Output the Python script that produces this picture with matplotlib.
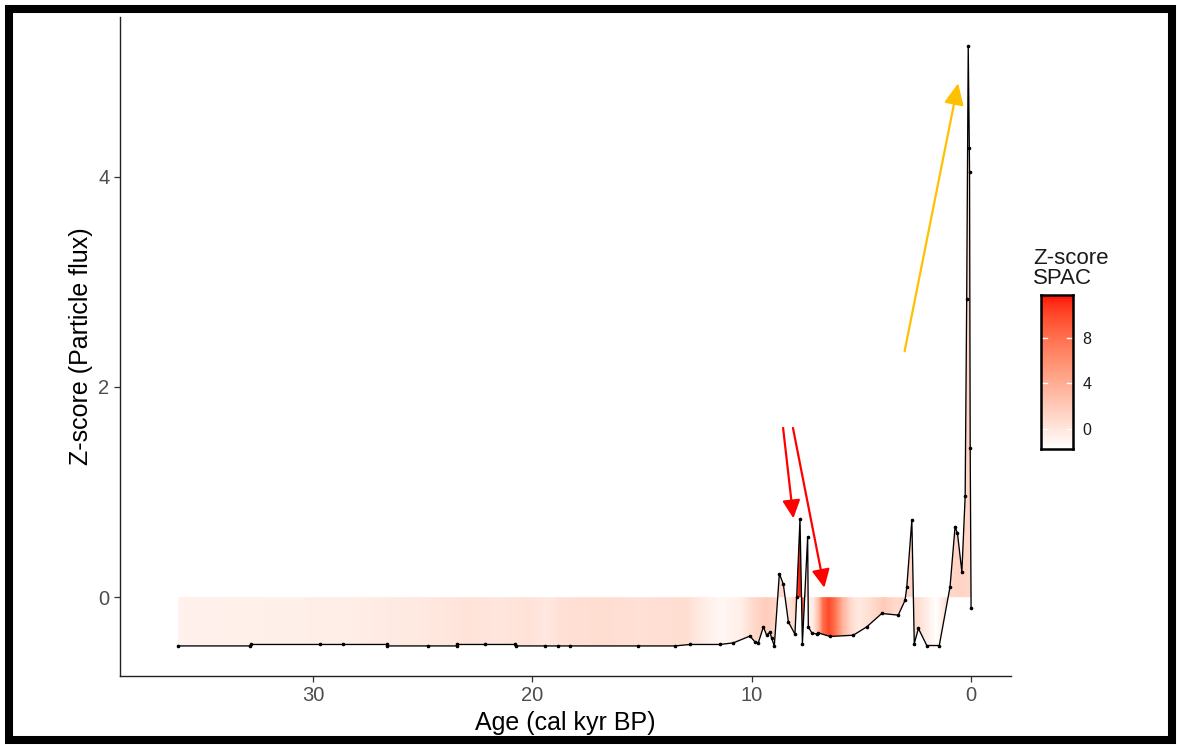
import numpy as np
import matplotlib
matplotlib.use("Agg")
import matplotlib.pyplot as plt
from matplotlib.colors import ListedColormap, Normalize
from matplotlib.patches import Rectangle, PathPatch

# ---------------- data ----------------
age_kyr = [36.17, 32.88, 32.85, 29.69, 28.62, 26.64, 26.62, 24.75, 23.45, 23.42,
           22.16, 20.79, 20.76, 19.43, 18.82, 18.29, 15.17, 13.50, 12.81, 11.45,
           10.84, 10.08, 9.85, 9.70, 9.47, 9.32, 9.17, 9.09, 8.97, 8.74,
           8.56, 8.33, 8.03, 7.95, 7.80, 7.69, 7.45, 7.42, 7.26, 7.04,
           6.96, 6.43, 5.37, 4.76, 4.07, 3.32, 3.01, 2.93, 2.70, 2.59,
           2.40, 2.02, 1.45, 0.96, 0.73, 0.62, 0.42, 0.27, 0.20, 0.13,
           0.08, 0.07, 0.04, 0.00]
zscore_flux = [-0.464, -0.464, -0.45, -0.45, -0.45, -0.45, -0.464, -0.464, -0.464, -0.45,
               -0.45, -0.45, -0.464, -0.464, -0.464, -0.464, -0.464, -0.464, -0.45, -0.45,
               -0.435, -0.37, -0.426, -0.435, -0.283, -0.362, -0.333, -0.393, -0.464, 0.224,
               0.124, -0.235, -0.352, 0.003, 0.74, -0.441, 0.574, -0.283, -0.34, -0.352,
               -0.34, -0.374, -0.362, -0.283, -0.155, -0.171, -0.03, 0.098, 0.736, -0.441,
               -0.298, -0.46, -0.46, 0.098, 0.67, 0.607, 0.241, 0.96, 2.84, 5.24,
               4.27, 4.05, 1.42, -0.1]

spac_age = [36.2, 32.9, 29.2, 26.0, 24.2, 23.1, 21.5, 20.2, 19.4, 18.7,
            16.9, 15.1, 13.0, 12.4, 11.45, 10.5, 10.0, 9.4, 8.8, 8.35,
            8.07, 7.89, 7.71, 7.52, 7.25, 6.98, 6.8, 6.52, 6.25, 5.88,
            5.52, 5.15, 4.6, 4.0, 3.47, 2.78, 2.33, 1.64, 1.05, 0.5, 0.0]
spac_zscore = [-0.8, -0.7, -0.6, -0.3, -0.1, 0.2, 0.0, 0.3, -0.2, 0.4,
               0.6, 0.4, 0.6, -0.3, -1.2, -0.6, 0.8, 1.8, 1.0, 0.0,
               1.0, 11.8, 9.5, -0.5, -0.6, 3.0, 8.0, 10.0, 8.0, 3.5,
               0.8, -0.3, 0.6, 2.0, 0.8, 1.2, 0.3, -1.8, 1.0, 1.3, 1.0]

x_ticks = [0, 10, 20, 30]
y_ticks = [0, 2, 4]
cbar_ticks = [0, 4, 8]

# ---------------- colormap (white -> red, Lab interpolation like ggplot) ----------------
def lab_to_srgb(L, a, b):
    fy = (L + 16) / 116.0
    fx = fy + a / 500.0
    fz = fy - b / 200.0
    d = 6 / 29

    def finv(t):
        return np.where(t > d, t ** 3, 3 * d * d * (t - 4 / 29))
    X = 0.95047 * finv(fx)
    Y = 1.0 * finv(fy)
    Z = 1.08883 * finv(fz)
    r = 3.2406 * X - 1.5372 * Y - 0.4986 * Z
    g = -0.9689 * X + 1.8758 * Y + 0.0415 * Z
    bb = 0.0557 * X - 0.2040 * Y + 1.0570 * Z
    rgb = np.stack([r, g, bb], axis=-1)
    rgb = np.where(rgb <= 0.0031308, 12.92 * rgb, 1.055 * np.clip(rgb, 0, None) ** (1 / 2.4) - 0.055)
    return np.clip(rgb, 0, 1)

t = np.linspace(0, 1, 256)
L = 100 + (53.2408 - 100) * t
A = 0 + 80.0925 * t
B = 0 + 67.2032 * t
cmap = ListedColormap(lab_to_srgb(L, A, B))
norm = Normalize(vmin=min(spac_zscore), vmax=max(spac_zscore))

# ---------------- figure ----------------
plt.rcParams["font.family"] = ["Liberation Sans", "DejaVu Sans"]
W, H = 1177, 745
fig = plt.figure(figsize=(W / 100, H / 100), dpi=100)
fig.patch.set_facecolor("white")

ax = fig.add_axes([120 / W, 1 - 676 / H, (1011 - 120) / W, (676 - 17) / H])

# gradient fill between 0 and the curve
fb = ax.fill_between(age_kyr, zscore_flux, 0, facecolor="none", edgecolor="none")
path = fb.get_paths()[0]
clip = PathPatch(path, transform=ax.transData, facecolor="none", edgecolor="none")
ax.add_patch(clip)
gx = np.linspace(0, max(age_kyr), 4000)
gv = np.interp(gx, spac_age[::-1], spac_zscore[::-1])
img = cmap(norm(gv))[None, :, :]
im = ax.imshow(img, extent=(gx[0], gx[-1], min(zscore_flux), max(zscore_flux)),
               aspect="auto", interpolation="nearest", zorder=1)
im.set_clip_path(clip)

ax.plot(age_kyr, zscore_flux, color="black", lw=0.95, zorder=3)
ax.plot(age_kyr, zscore_flux, "o", color="black", ms=1.6, zorder=4)

ax.set_xlim(38.8, -1.82)
ax.set_ylim(-0.75, 5.52)

# arrows (annotations)
red_head = "-|>,head_length=0.55,head_width=0.27"
ax.annotate("", xy=(8.10, 0.75), xytext=(8.57, 1.61),
            arrowprops=dict(arrowstyle=red_head, color="#FF0000", lw=1.6,
                            mutation_scale=20, shrinkA=0, shrinkB=0), zorder=5)
ax.annotate("", xy=(6.69, 0.09), xytext=(8.12, 1.61),
            arrowprops=dict(arrowstyle=red_head, color="#FF0000", lw=1.6,
                            mutation_scale=20, shrinkA=0, shrinkB=0), zorder=5)
ax.annotate("", xy=(0.59, 4.89), xytext=(3.03, 2.34),
            arrowprops=dict(arrowstyle="-|>,head_length=0.65,head_width=0.3",
                            color="#FFC000", lw=1.6, mutation_scale=20,
                            shrinkA=0, shrinkB=0), zorder=5)

for s in ["top", "right"]:
    ax.spines[s].set_visible(False)
for s in ["left", "bottom"]:
    ax.spines[s].set_linewidth(1.0)
    ax.spines[s].set_color("#222222")
ax.set_xticks(x_ticks)
ax.set_yticks(y_ticks)
ax.tick_params(axis="both", length=4.5, width=0.9, color="#333333",
               labelsize=14.5, labelcolor="#4D4D4D", pad=3)
ax.set_xlabel("Age (cal kyr BP)", fontsize=18, color="black", labelpad=4)
ax.set_ylabel("Z-score (Particle flux)", fontsize=18, color="black", labelpad=4)

# colorbar
cax = fig.add_axes([1041 / W, 1 - 449 / H, 32 / W, (449 - 295) / H])
vmin, vmax = norm.vmin, norm.vmax
grad = np.linspace(vmin, vmax, 256)[:, None]
cax.imshow(grad, cmap=cmap, norm=norm, aspect="auto", origin="lower",
           extent=(0, 1, vmin, vmax))
cax.set_xlim(0, 1)
cax.set_ylim(vmin, vmax)
for tv in cbar_ticks:
    cax.plot([0, 0.2], [tv, tv], color="white", lw=1.0)
    cax.plot([0.8, 1], [tv, tv], color="white", lw=1.0)
cax.set_xticks([])
cax.set_yticks(cbar_ticks)
cax.yaxis.tick_right()
cax.tick_params(axis="y", length=0, pad=7, labelsize=11.5, labelcolor="#1a1a1a")
for s in cax.spines.values():
    s.set_linewidth(1.8)
    s.set_color("black")
fig.text(1033 / W, 1 - 289 / H, "Z-score\nSPAC", fontsize=16, ha="left",
         va="bottom", linespacing=0.95, color="#1a1a1a")

# outer black frame
fig.patches.append(Rectangle((9 / W, 1 - 740 / H), (1172 - 9) / W, (740 - 9) / H,
                             transform=fig.transFigure, fill=False,
                             edgecolor="black", linewidth=5.8))

fig.savefig("out.png", dpi=100, facecolor="white")
